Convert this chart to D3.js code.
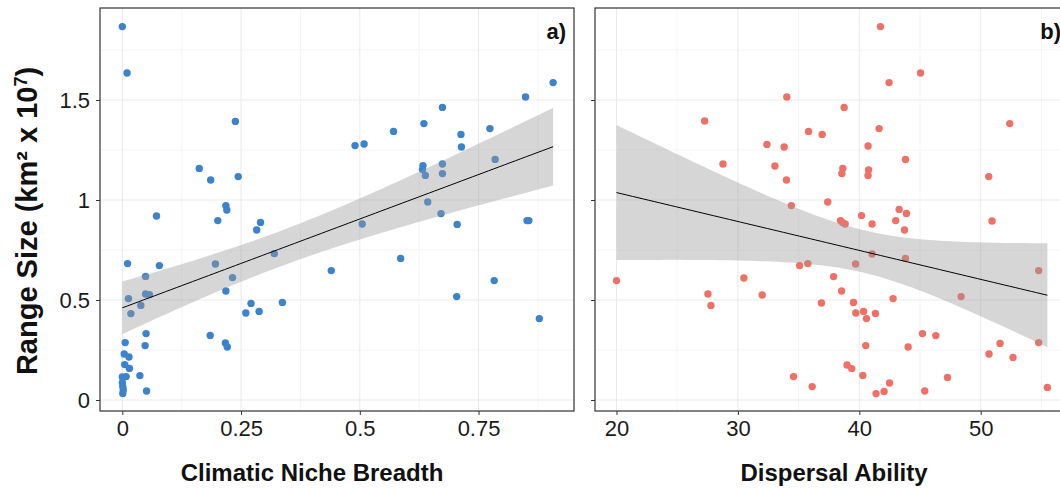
<!DOCTYPE html>
<html>
<head>
<meta charset="utf-8">
<script src="https://cdn.jsdelivr.net/npm/d3@7"></script>
<style>
  body { margin: 0; background: #fff; }
  svg { display: block; font-family: "Liberation Sans", Arial, sans-serif; }
</style>
</head>
<body>
<script>
// climatic niche breadth vs range size (panel a)
var nicheX = [0, 0.01, 0.238, 0.162, 0.186, 0.244, 0.218, 0.22, 0.49, 0.509, 0.571, 0.635, 0.674, 0.713, 0.714, 0.774,
    0.785, 0.849, 0.907, 0.633, 0.632, 0.638, 0.674, 0.674, 0.643, 0.072, 0.201, 0.291, 0.283, 0.32, 0.44, 0.011,
    0.078, 0.196, 0.049, 0.232, 0.049, 0.057, 0.218, 0.013, 0.039, 0.018, 0.271, 0.288, 0.26, 0.337, 0.185, 0.05,
    0.006, 0.048, 0.217, 0.221, 0.004, 0.014, 0.005, 0.015, 0.037, 0.008, 0, 0, 0.001, 0.002, 0.001, 0.051,
    0.671, 0.705, 0.505, 0.852, 0.856, 0.586, 0.783, 0.704, 0.878];
var nicheY = [1.867, 1.635, 1.393, 1.158, 1.10, 1.117, 0.972, 0.95, 1.272, 1.28, 1.343, 1.382, 1.463, 1.328, 1.265, 1.357,
    1.203, 1.515, 1.587, 1.172, 1.152, 1.123, 1.18, 1.132, 0.99, 0.92, 0.897, 0.888, 0.85, 0.732, 0.647, 0.682,
    0.672, 0.68, 0.618, 0.612, 0.53, 0.527, 0.545, 0.507, 0.473, 0.432, 0.483, 0.443, 0.435, 0.488, 0.323, 0.332,
    0.287, 0.272, 0.285, 0.265, 0.23, 0.215, 0.177, 0.158, 0.122, 0.117, 0.115, 0.087, 0.067, 0.05, 0.033, 0.045,
    0.932, 0.878, 0.88, 0.897, 0.897, 0.708, 0.597, 0.517, 0.407];

// dispersal ability vs range size (panel b)
var dispX = [41.74, 45.04, 42.45, 34.03, 38.75, 27.26, 52.39, 41.63, 35.82, 36.94, 32.39, 40.72, 33.81, 43.8, 28.77, 33.05,
    38.64, 40.76, 38.56, 40.72, 50.66, 34.0, 37.4, 34.4, 43.28, 40.18, 43.88, 38.45, 38.62, 38.83, 41.05, 43.0,
    43.72, 50.93, 41.05, 43.8, 39.69, 54.77, 37.88, 38.54, 36.88, 39.52, 42.78, 48.38, 39.71, 40.35, 40.59, 41.33,
    45.2, 46.3, 40.53, 44.02, 51.59, 54.77, 50.68, 52.66, 38.99, 39.38, 40.29, 47.26, 42.49, 42.04, 41.38, 45.39,
    55.49, 35.08, 35.76, 20.0, 30.49, 27.53, 32.0, 27.78, 34.58, 36.12];
var dispY = [1.867, 1.635, 1.587, 1.515, 1.463, 1.395, 1.382, 1.357, 1.343, 1.328, 1.278, 1.27, 1.265, 1.203, 1.18, 1.17,
    1.158, 1.15, 1.132, 1.123, 1.117, 1.10, 0.99, 0.972, 0.953, 0.922, 0.933, 0.897, 0.887, 0.88, 0.88, 0.897,
    0.85, 0.895, 0.73, 0.708, 0.68, 0.647, 0.617, 0.545, 0.485, 0.488, 0.507, 0.517, 0.435, 0.443, 0.407, 0.433,
    0.332, 0.322, 0.272, 0.265, 0.283, 0.287, 0.23, 0.213, 0.175, 0.157, 0.123, 0.113, 0.085, 0.043, 0.032, 0.045,
    0.063, 0.672, 0.682, 0.597, 0.61, 0.53, 0.525, 0.473, 0.117, 0.067];

var yTicks = [0, 0.5, 1, 1.5];
var yTickLabels = ["0", "0.5", "1", "1.5"];
var nicheTicks = [0, 0.25, 0.5, 0.75];
var nicheTickLabels = ["0", "0.25", "0.5", "0.75"];
var dispTicks = [20, 30, 40, 50];
var dispTickLabels = ["20", "30", "40", "50"];

var width = 1060, height = 488;
var svg = d3.select("body").append("svg")
    .attr("width", width)
    .attr("height", height);

var plotTop = 8, plotBottom = 411;
var y = d3.scaleLinear().domain([-0.055, 1.96]).range([plotBottom, plotTop]);

// simple lm fit with 95% confidence band, like geom_smooth(method = "lm")
function lmBand(xs, ys) {
    var n = xs.length;
    var mx = d3.mean(xs), my = d3.mean(ys);
    var sxx = 0, sxy = 0;
    for (var i = 0; i < n; i++) {
        sxx += (xs[i] - mx) * (xs[i] - mx);
        sxy += (xs[i] - mx) * (ys[i] - my);
    }
    var b = sxy / sxx, a = my - b * mx;
    var sse = 0;
    for (var j = 0; j < n; j++) {
        var r = ys[j] - (a + b * xs[j]);
        sse += r * r;
    }
    var s = Math.sqrt(sse / (n - 2));
    var t = 1.994;
    var ext = d3.extent(xs);
    return d3.range(0, 81).map(function (k) {
        var x = ext[0] + (ext[1] - ext[0]) * k / 80;
        var fit = a + b * x;
        var se = s * Math.sqrt(1 / n + (x - mx) * (x - mx) / sxx);
        return { x: x, fit: fit, lo: fit - t * se, hi: fit + t * se };
    });
}

function drawPanel(opt) {
    var x = d3.scaleLinear().domain(opt.domain).range([opt.left, opt.right]);
    var g = svg.append("g");

    g.append("defs").append("clipPath").attr("id", opt.id)
        .append("rect")
        .attr("x", opt.left).attr("y", plotTop)
        .attr("width", opt.right - opt.left).attr("height", plotBottom - plotTop);

    var inner = g.append("g").attr("clip-path", "url(#" + opt.id + ")");

    // minor then major grid
    var yMinor = [0.25, 0.75, 1.25, 1.75];
    inner.selectAll(".ymin").data(yMinor).enter().append("line")
        .attr("x1", opt.left).attr("x2", opt.right)
        .attr("y1", function (d) { return y(d); }).attr("y2", function (d) { return y(d); })
        .attr("stroke", "#f2f2f2").attr("stroke-width", 0.8);
    inner.selectAll(".xmin").data(opt.minor).enter().append("line")
        .attr("y1", plotTop).attr("y2", plotBottom)
        .attr("x1", function (d) { return x(d); }).attr("x2", function (d) { return x(d); })
        .attr("stroke", "#f2f2f2").attr("stroke-width", 0.8);
    inner.selectAll(".ymaj").data(yTicks).enter().append("line")
        .attr("x1", opt.left).attr("x2", opt.right)
        .attr("y1", function (d) { return y(d); }).attr("y2", function (d) { return y(d); })
        .attr("stroke", "#ebebeb").attr("stroke-width", 1.1);
    inner.selectAll(".xmaj").data(opt.ticks).enter().append("line")
        .attr("y1", plotTop).attr("y2", plotBottom)
        .attr("x1", function (d) { return x(d); }).attr("x2", function (d) { return x(d); })
        .attr("stroke", "#ebebeb").attr("stroke-width", 1.1);

    // points
    inner.selectAll("circle").data(opt.xs).enter().append("circle")
        .attr("cx", function (d) { return x(d); })
        .attr("cy", function (d, i) { return y(opt.ys[i]); })
        .attr("r", 3.7)
        .attr("fill", opt.color);

    // regression band and line
    var band = lmBand(opt.xs, opt.ys);
    inner.append("path")
        .datum(band)
        .attr("d", d3.area()
            .x(function (d) { return x(d.x); })
            .y0(function (d) { return y(d.lo); })
            .y1(function (d) { return y(d.hi); }))
        .attr("fill", "#999999")
        .attr("fill-opacity", 0.4);
    inner.append("path")
        .datum(band)
        .attr("d", d3.line()
            .x(function (d) { return x(d.x); })
            .y(function (d) { return y(d.fit); }))
        .attr("fill", "none")
        .attr("stroke", "#000")
        .attr("stroke-width", 1);

    // border
    g.append("rect")
        .attr("x", opt.left).attr("y", plotTop)
        .attr("width", opt.right - opt.left).attr("height", plotBottom - plotTop)
        .attr("fill", "none").attr("stroke", "#333").attr("stroke-width", 1.2);

    // x axis
    var xAxis = g.append("g")
        .attr("transform", "translate(0," + plotBottom + ")")
        .call(d3.axisBottom(x).tickValues(opt.ticks)
            .tickFormat(function (d, i) { return opt.labels[i]; })
            .tickSize(4).tickSizeOuter(0).tickPadding(5));
    xAxis.select(".domain").remove();
    xAxis.selectAll("line").attr("stroke", "#333");
    xAxis.selectAll("text").attr("font-size", 22).attr("fill", "#1a1a1a")
        .attr("font-family", "'Liberation Sans', Arial, sans-serif");

    // y axis
    var yAxis = g.append("g")
        .attr("transform", "translate(" + opt.left + ",0)")
        .call(d3.axisLeft(y).tickValues(yTicks)
            .tickFormat(function (d, i) { return opt.yLabels ? yTickLabels[i] : ""; })
            .tickSize(4).tickSizeOuter(0).tickPadding(6));
    yAxis.select(".domain").remove();
    yAxis.selectAll("line").attr("stroke", "#333");
    yAxis.selectAll("text").attr("font-size", 22).attr("fill", "#1a1a1a")
        .attr("font-family", "'Liberation Sans', Arial, sans-serif");

    // panel tag
    g.append("text")
        .attr("x", opt.tagX).attr("y", 39)
        .attr("text-anchor", "end")
        .attr("font-size", 22).attr("font-weight", "bold")
        .attr("fill", "#111")
        .text(opt.tag);

    // x title
    g.append("text")
        .attr("x", opt.titleX).attr("y", 481)
        .attr("text-anchor", "middle")
        .attr("font-size", 24).attr("font-weight", "bold")
        .attr("fill", "#111")
        .text(opt.title);
}

drawPanel({
    id: "clipA", left: 100, right: 574, domain: [-0.047, 0.951],
    xs: nicheX, ys: nicheY, color: "#3c83cd",
    ticks: nicheTicks, labels: nicheTickLabels, minor: [0.125, 0.375, 0.625, 0.875],
    yLabels: true, tag: "a)", tagX: 566, title: "Climatic Niche Breadth", titleX: 312
});
drawPanel({
    id: "clipB", left: 595, right: 1069, domain: [18.23, 57.27],
    xs: dispX, ys: dispY, color: "#ef7065",
    ticks: dispTicks, labels: dispTickLabels, minor: [25, 35, 45, 55],
    yLabels: false, tag: "b)", tagX: 1061, title: "Dispersal Ability", titleX: 834
});

// shared y title
var yTitle = svg.append("text")
    .attr("transform", "translate(37,221) rotate(-90)")
    .attr("text-anchor", "middle")
    .attr("font-size", 29).attr("font-weight", "bold")
    .attr("fill", "#111");
yTitle.append("tspan").text("Range Size (km\u00B2 x 10");
yTitle.append("tspan").attr("baseline-shift", "super").attr("font-size", 18).text("7");
yTitle.append("tspan").text(")");
</script>
</body>
</html>
